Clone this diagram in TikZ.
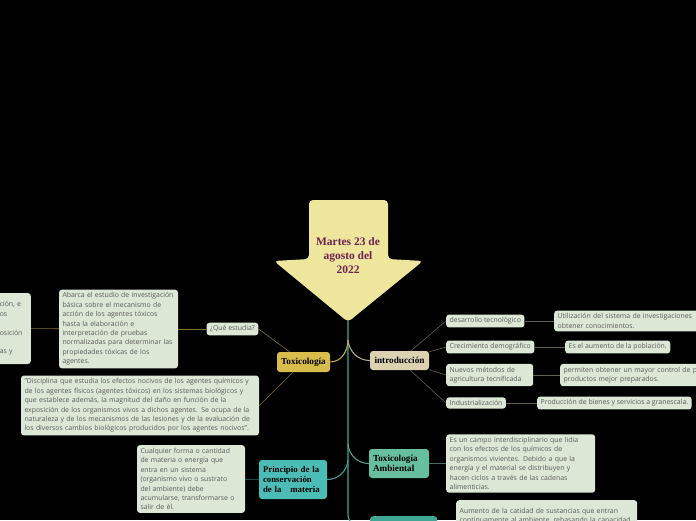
\documentclass[tikz,border=0pt]{standalone}
\usepackage{fontspec}
\setmainfont{Open Sans}
\newfontfamily\headfont{Liberation Serif}
\usetikzlibrary{positioning}
\definecolor{LeafGreen}{HTML}{DCE7D6}
\definecolor{LeafText}{HTML}{5B5B5B}
\definecolor{TitleYellow}{HTML}{EFE69E}
\definecolor{TitlePurple}{HTML}{6B2152}
\definecolor{ToxGold}{HTML}{D8BC4C}
\definecolor{IntroBeige}{HTML}{DCD2B2}
\definecolor{AmbGreen}{HTML}{66C0A0}
\definecolor{PrincTeal}{HTML}{4CBCB6}
\definecolor{TrunkTeal}{HTML}{3FA794}
\hyphenpenalty=10000
\exhyphenpenalty=10000

\begin{document}
\begin{tikzpicture}[x=1pt, y=-1pt,
            leaf/.style={fill=LeafGreen, rounded corners=3pt, text=LeafText, align=left, font=\fontsize{6.9}{9.4}\selectfont, inner xsep=3.5pt, inner ysep=3pt},
            topic/.style={rounded corners=3pt, align=left, text=black, font=\headfont\bfseries\fontsize{9.2}{10.5}\selectfont, inner xsep=4pt, inner ysep=3pt},
            branch/.style={line width=1.1pt},
            link/.style={line width=0.6pt}
        ]
            % Background and frame
            \fill[black] (0,0) rectangle (696,520);
            \useasboundingbox (0,0) rectangle (696,520);
            \clip (0,0) rectangle (696,520);

            % Central arrow
            \fill[TitleYellow, rounded corners=4pt] (309,200) -- (388,200) -- (388,259) -- (423,261) -- (348,322) -- (274,261) -- (309,259) -- cycle;
            \coordinate (tip) at (348,320);
            \node[align=center, text=TitlePurple, font=\headfont\bfseries\fontsize{11.5}{14}\selectfont] at (348,256) (title) {Martes 23 de\\agosto del\\2022};

            % Main topics
            \node[topic, fill=ToxGold, minimum width=53pt, minimum height=20pt, align=center] at (303.5,362) (tox) {Toxicología};
            \node[topic, fill=IntroBeige, minimum width=59pt, minimum height=19pt, align=center] at (399.5,360.5) (intro) {introducción};
            \node[topic, fill=AmbGreen, minimum height=29pt, text width=52pt] at (399,463.5) (amb) {Toxicología\\Ambiental};
            \node[topic, fill=PrincTeal, minimum height=39pt, text width=60pt, font=\headfont\bfseries\fontsize{8.8}{10}\selectfont] at (293,479.5) (princ) {Principio de la\\conservación\\de la\quad materia};
            \node[fill=TrunkTeal, rounded corners=3pt, minimum width=67pt, minimum height=24pt, anchor=north west] at (370,516) (next) {};

            % Trunk and branches
            \coordinate (j1) at (348,340);
            \coordinate (j2) at (348,444);
            \coordinate (j3) at (348,460);
            \draw[branch, TrunkTeal, rounded corners=14pt] (tip) |- (next.west);
            \draw[branch, ToxGold!90!black] (tox.east) to[out=0, in=-90] (j1);
            \draw[branch, IntroBeige!80!black] (j1) to[out=-85, in=180] (intro.west);
            \draw[branch, AmbGreen!85!black] (j2) to[out=-85, in=180] (amb.west);
            \draw[branch, PrincTeal!85!black] (j3) to[out=-95, in=0] (princ.east);

            % Toxicologia subtree
            \node[leaf] at (232.5,329) (que) {¿Qué estudia?};
            \node[leaf, text width=112pt] at (118.5,329) (abarca) {Abarca el estudio de investigación\\básica sobre el mecanismo de\\acción de los agentes tóxicos\\hasta la elaboración e\\interpretación de pruebas\\normalizadas para determinar las\\propiedades tóxicas de los\\agentes.};
            \node[leaf, text width=27.5pt, minimum height=71pt, anchor=east] at (31,328.5) (cutleft) {ción, e\\os\\\mbox{}\\osición\\\mbox{}\\as y};
            \node[leaf, text width=231pt] at (140,405.5) (quote) {"Disciplina que estudia los efectos nocivos de los agentes químicos y\\de los agentes físicos (agentes tóxicos) en los sistemas biológicos y\\que establece además, la magnitud del daño en función de la\\exposición de los organismos vivos a dichos agentes. Se ocupa de la\\naturaleza y de los mecanismos de las lesiones y de la evaluación de\\los diversos cambios biológicos producidos por los agentes nocivos".};
            \draw[link, ToxGold!60!black] (tox) -- (que.east);
            \draw[link, ToxGold!60!black] (que) -- (abarca);
            \draw[link, ToxGold!60!black] (abarca) -- (cutleft);
            \draw[link, ToxGold!60!black] (tox) -- (quote.east);

            % Introduccion subtree
            \node[leaf, anchor=west] at (446,321) (desarrollo) {desarrollo tecnológico};
            \node[leaf, anchor=west] at (446,347) (crec) {Crecimiento demográfico};
            \node[leaf, anchor=west, text width=80pt] at (446,375) (nuevos) {Nuevos métodos de\\agricultura tecnificada};
            \node[leaf, anchor=west] at (446,403) (indus) {Industrialización};
            \node[leaf, anchor=west, text width=150pt] at (554,321) (utiliz) {Utilización del sistema de investigaciones\\obtener conocimientos.};
            \node[leaf, anchor=west] at (565,347) (aumento) {Es el aumento de la población.};
            \node[leaf, anchor=west, text width=150pt] at (560,375) (permiten) {permiten obtener un mayor control de p\\productos mejor preparados.};
            \node[leaf, anchor=west] at (537,403) (produc) {Producción de bienes y servicios a granescala.};
            \foreach \leafname in {desarrollo, crec, nuevos, indus}
                \draw[link, IntroBeige!45!black] (intro) -- (\leafname.west);
            \draw[link, IntroBeige!45!black] (desarrollo) -- (utiliz);
            \draw[link, IntroBeige!45!black] (crec) -- (aumento);
            \draw[link, IntroBeige!45!black] (nuevos) -- (permiten);
            \draw[link, IntroBeige!45!black] (indus) -- (produc);

            % Toxicologia ambiental and principio
            \node[leaf, anchor=west, text width=142pt] at (446,463.5) (campo) {Es un campo interdisciplinario que lidia\\con los efectos de los químicos de\\organismos vivientes. Debido a que la\\energía y el material se distribuyen y\\hacen ciclos a través de las cadenas\\alimenticias.};
            \node[leaf, anchor=north west, text width=174pt, minimum height=32pt] at (456,500) (aumcat) {Aumento de la catidad de sustancias que entran\\continuamente al ambiente, rebasando la capacidad};
            \node[leaf, text width=101pt] at (191,479) (cualq) {Cualquier forma o cantidad\\de materia o energía que\\entra en un sistema\\(organismo vivo o sustrato\\del ambiente) debe\\acumularse, transformarse o\\salir de él.};
            \draw[link, AmbGreen!60!black] (amb) -- (campo);
            \draw[link, PrincTeal!60!black] (princ) -- (cualq);

        \end{tikzpicture}
\end{document}
